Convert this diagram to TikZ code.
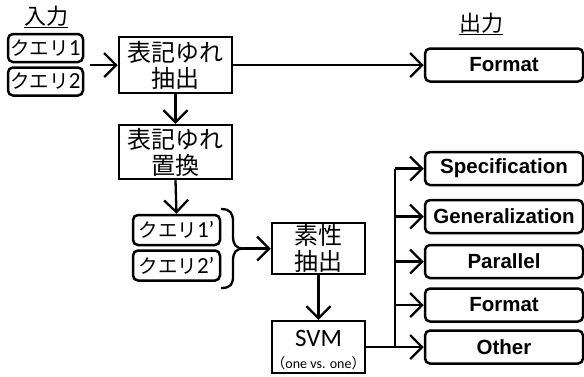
\documentclass[tikz,border=0pt]{standalone}
\usepackage{fontspec}
\setmainfont{Noto Sans CJK JP}
\newfontfamily\carl{Carlito}
\newfontfamily\lsans{Liberation Sans}
\usetikzlibrary{arrows.meta}
\newcommand{\dg}[1]{{\carl\fontsize{23}{23}\selectfont #1}}
\begin{document}
\begin{tikzpicture}[x=1pt,y=-1pt,
  box/.style={draw, line width=2.5pt, inner sep=0pt, align=center},
  rbox/.style={box, rounded corners=5pt},
  jpbox/.style={box, font=\fontsize{24}{26}\selectfont},
  qbox/.style={rbox, minimum width=75pt, minimum height=28pt, font=\fontsize{19.5}{21}\selectfont},
  qpbox/.style={rbox, minimum width=87pt, minimum height=30pt, font=\fontsize{19.5}{21}\selectfont},
  outbox/.style={rbox, minimum width=158pt, minimum height=33pt, font=\lsans\bfseries\fontsize{20.5}{22}\selectfont},
  arr/.style={line width=2.3pt, -{Straight Barb[length=12pt,width=24pt,line width=2.3pt]}},
  ln/.style={line width=2.3pt},
  title/.style={font=\fontsize{22}{24}\selectfont, inner sep=0pt}
]
\useasboundingbox (0,0) rectangle (584,376);

\node[title] (in) at (46,17) {\underline{入力}};
\node[title] (out) at (481,24) {\underline{出力}};

\node[qbox] (q1) at (45.5,48) {クエリ\dg{1}};
\node[qbox] (q2) at (45.5,81.5) {クエリ\dg{2}};
\coordinate (qin) at (90,65);

\node[jpbox, minimum width=113pt, minimum height=56pt] (ext) at (175.5,65) {表記ゆれ\\抽出};
\node[jpbox, minimum width=113pt, minimum height=54pt] (rep) at (175.5,152) {表記ゆれ\\置換};

\node[qpbox] (q1p) at (176.5,230) {クエリ\dg{1’}};
\node[qpbox] (q2p) at (176.5,265.5) {クエリ\dg{2’}};

\node[jpbox, minimum width=93pt, minimum height=51pt] (feat) at (318.5,248.5) {素性\\抽出};
\node[box, minimum width=93pt, minimum height=52pt] (svm) at (318.5,347) {};
\node[inner sep=0pt, font=\carl\fontsize{25}{26}\selectfont] (svmt) at (318.5,338) {SVM};
\node[inner sep=0pt, font=\fontsize{14}{15}\selectfont] (svms) at (318.5,363) {（{\carl one vs. one}）};

\node[outbox] (fmt1) at (504,65) {Format};
\node[outbox] (spec) at (504,168.5) {Specification};
\node[outbox] (gen) at (504,216.5) {Generalization};
\node[outbox] (par) at (504,261.5) {Parallel};
\node[outbox] (fmt2) at (504,305) {Format};
\node[outbox] (oth) at (504,347) {Other};

\draw[arr] (qin) -- (ext.west);
\draw[arr] (ext.east) -- (fmt1.west);
\draw[arr] (ext.south) -- (rep.north);
\draw[arr] (rep.south) -- (q1p.north);

\coordinate (bt) at (244,248.5);
\draw[ln] (221,209) .. controls (231,209) and (233,214) .. (233,222) -- (233,236) .. controls (233,245) and (236,248.5) .. (bt);
\draw[ln] (bt) .. controls (236,248.5) and (233,252) .. (233,261) -- (233,276) .. controls (233,284) and (231,288) .. (221,288);
\draw[arr] (bt) -- (feat.west);
\draw[arr] (feat.south) -- (svm.north);

\coordinate (tj) at (395,347);
\draw[line width=2.8pt] (svm.east) -- (tj);
\draw[line width=2.8pt] (tj) -- (tj |- spec.west);
\draw[arr] (tj |- spec.west) -- (spec.west);
\draw[arr] (tj |- gen.west) -- (gen.west);
\draw[arr] (tj |- par.west) -- (par.west);
\draw[arr] (tj |- fmt2.west) -- (fmt2.west);
\draw[arr] (tj) -- (oth.west);
\end{tikzpicture}
\end{document}
